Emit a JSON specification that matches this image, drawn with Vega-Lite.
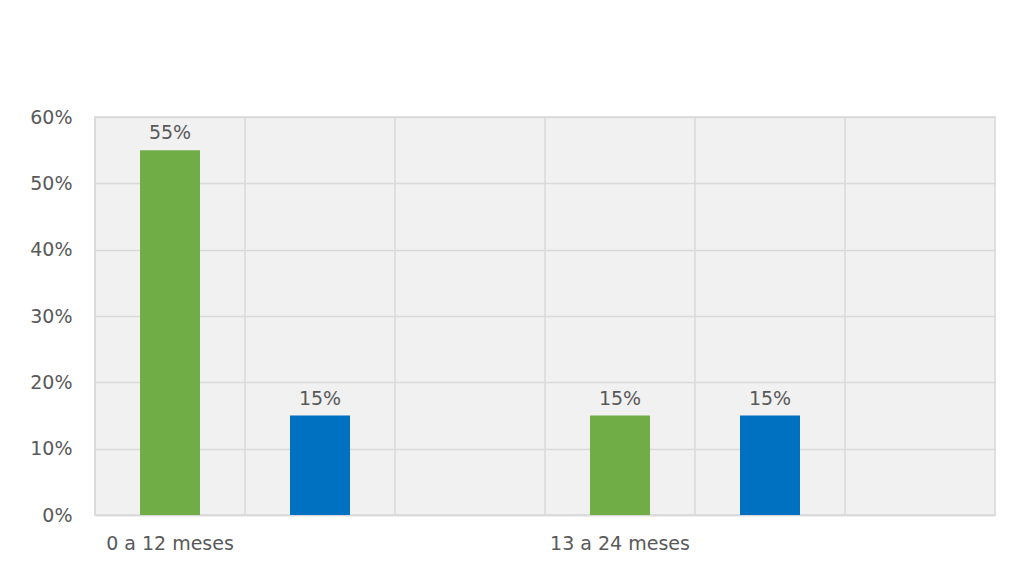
{
  "$schema": "https://vega.github.io/schema/vega-lite/v6.json",
  "width": 900,
  "height": 398,
  "autosize": {"type": "none"},
  "padding": {"left": 95, "top": 117, "right": 17, "bottom": 52},
  "background": "white",
  "config": {
    "view": {"stroke": "#d9d9d9", "strokeWidth": 1.5, "fill": "#f1f1f1"},
    "font": "DejaVu Sans"
  },
  "datasets": {
    "valores": [
      {"columna": "0 a 12 meses|1", "serie": "A", "valor": 0.55},
      {"columna": "0 a 12 meses|2", "serie": "B", "valor": 0.15},
      {"columna": "13 a 24 meses|1", "serie": "A", "valor": 0.15},
      {"columna": "13 a 24 meses|2", "serie": "B", "valor": 0.15}
    ],
    "columnas": [
      {"columna": "0 a 12 meses|1"},
      {"columna": "0 a 12 meses|2"},
      {"columna": "0 a 12 meses|3"},
      {"columna": "13 a 24 meses|1"},
      {"columna": "13 a 24 meses|2"},
      {"columna": "13 a 24 meses|3"}
    ]
  },
  "layer": [
    {
      "data": {"name": "columnas"},
      "mark": {"type": "rule", "color": "#d9d9d9", "strokeWidth": 1.5},
      "encoding": {
        "x": {
          "field": "columna",
          "type": "nominal",
          "sort": null,
          "bandPosition": 0,
          "scale": {
            "domain": ["0 a 12 meses|1", "0 a 12 meses|2", "0 a 12 meses|3", "13 a 24 meses|1", "13 a 24 meses|2", "13 a 24 meses|3"],
            "paddingInner": 0,
            "paddingOuter": 0
          },
          "axis": {
            "title": null,
            "labelAngle": 0,
            "grid": false,
            "ticks": false,
            "domainColor": "#d9d9d9",
            "domainWidth": 1.5,
            "labelExpr": "indexof(datum.value, '|1') > 0 ? replace(datum.value, '|1', '') : ''",
            "labelFont": "DejaVu Sans",
            "labelFontSize": 19,
            "labelColor": "#595959",
            "labelPadding": 19,
            "labelOverlap": false
          }
        }
      }
    },
    {
      "data": {"name": "valores"},
      "mark": {"type": "bar", "width": {"band": 0.4}},
      "encoding": {
        "x": {"field": "columna", "type": "nominal", "sort": null},
        "y": {
          "field": "valor",
          "type": "quantitative",
          "scale": {"domain": [0, 0.6]},
          "axis": {
            "title": null,
            "format": ".0%",
            "values": [0, 0.1, 0.2, 0.3, 0.4, 0.5, 0.6],
            "grid": true,
            "gridColor": "#d9d9d9",
            "gridWidth": 1.5,
            "domain": false,
            "ticks": false,
            "labelPadding": 23,
            "labelFont": "DejaVu Sans",
            "labelFontSize": 19,
            "labelColor": "#595959"
          }
        },
        "color": {
          "field": "serie",
          "type": "nominal",
          "scale": {"domain": ["A", "B"], "range": ["#70ad47", "#0070c0"]},
          "legend": null
        }
      }
    },
    {
      "data": {"name": "valores"},
      "mark": {"type": "text", "baseline": "bottom", "dy": -7, "fontSize": 19, "color": "#595959", "font": "DejaVu Sans"},
      "encoding": {
        "x": {"field": "columna", "type": "nominal", "sort": null},
        "y": {"field": "valor", "type": "quantitative"},
        "text": {"field": "valor", "type": "quantitative", "format": ".0%"}
      }
    }
  ]
}
